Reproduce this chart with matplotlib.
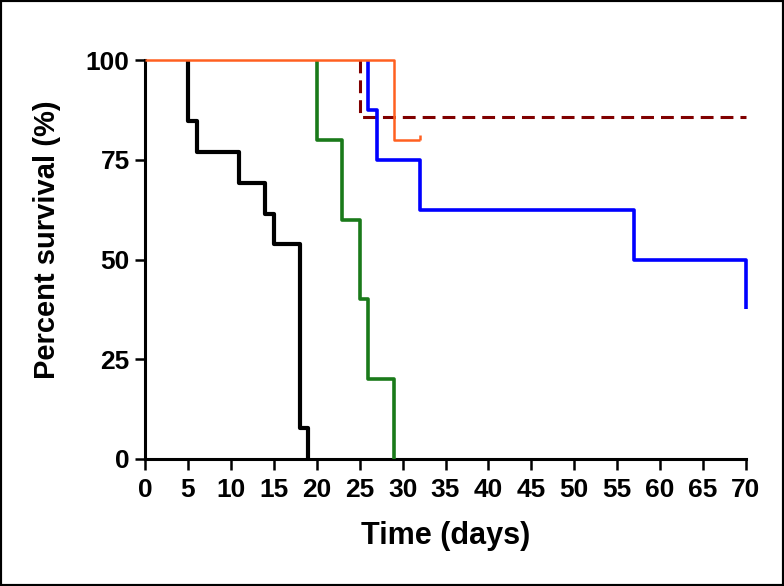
# Kaplan-Meier style survival curves
import matplotlib
matplotlib.use("Agg")
import matplotlib.pyplot as plt
from matplotlib.patches import Rectangle

plt.rcParams['font.family'] = ['Liberation Sans', 'DejaVu Sans']
plt.rcParams['font.weight'] = 'bold'
plt.rcParams['lines.solid_capstyle'] = 'butt'

# survival data (time in days, percent survival)
black_t = [0, 5, 6, 11, 14, 15, 18, 19]
black_s = [100, 84.6, 76.9, 69.2, 61.5, 53.8, 7.7, 0]

green_t = [0, 20, 23, 25, 26, 29]
green_s = [100, 80, 60, 40, 20, 0]

blue_t = [0, 26, 27, 32, 57, 70]
blue_s = [100, 87.5, 75, 62.5, 50, 37.5]

darkred_t = [0, 25, 70]
darkred_s = [100, 85.7, 85.7]

orange_t = [0, 29, 32]
orange_s = [100, 80, 80]

xticks = list(range(0, 75, 5))
yticks = [0, 25, 50, 75, 100]


def from_first_event(t, s):
    # the 100% stretch is hidden under the orange line in the original
    return [t[1]] + t[1:], [s[0]] + s[1:]


fig = plt.figure(figsize=(7.84, 5.86), dpi=100)
ax = fig.add_axes([145/784, 1-459/586, 601/784, 399/586])

x, y = from_first_event(darkred_t, darkred_s)
ax.step(x, y, where='post', color='#800000', lw=2.2, dashes=(4.2, 2.3), zorder=2)
x, y = from_first_event(black_t, black_s)
ax.step(x, y, where='post', color='black', lw=3, zorder=3)
x, y = from_first_event(green_t, green_s)
ax.step(x, y, where='post', color='#1a7a1a', lw=2.6, zorder=3)
x, y = from_first_event(blue_t, blue_s)
ax.step(x, y, where='post', color='#0000ff', lw=2.6, zorder=3)
ax.step(orange_t, orange_s, where='post', color='#ff6020', lw=1.8, zorder=4)
# censor mark at end of orange curve
ax.plot([orange_t[-1]], [orange_s[-1]], marker=[(0, 0), (0, 1)], ms=7, mew=1.8,
        color='#ff6020', zorder=4)

ax.set_xlim(0, 70)
ax.set_ylim(0, 100)
ax.set_xticks(xticks)
ax.set_yticks(yticks)
for s in ['top', 'right']:
    ax.spines[s].set_visible(False)
for s in ['left', 'bottom']:
    ax.spines[s].set_linewidth(2.2)
ax.tick_params(axis='both', direction='out', length=7, width=1.8,
               labelsize=19, pad=4)
ax.tick_params(axis='x', length=8, pad=6)
for lab in ax.get_xticklabels() + ax.get_yticklabels():
    lab.set_fontweight('bold')

ax.set_xlabel("Time (days)", fontsize=22, fontweight='bold')
ax.set_ylabel("Percent survival (%)", fontsize=21, fontweight='bold')
ax.xaxis.set_label_coords(0.5, -0.155)
ax.yaxis.set_label_coords(-0.14, 0.55)

for line in ax.lines:
    line.set_clip_on(False)

fig.add_artist(Rectangle((0, 0), 1, 1, transform=fig.transFigure,
                         fill=False, lw=3, ec='black'))

fig.savefig("out.png", dpi=100)
